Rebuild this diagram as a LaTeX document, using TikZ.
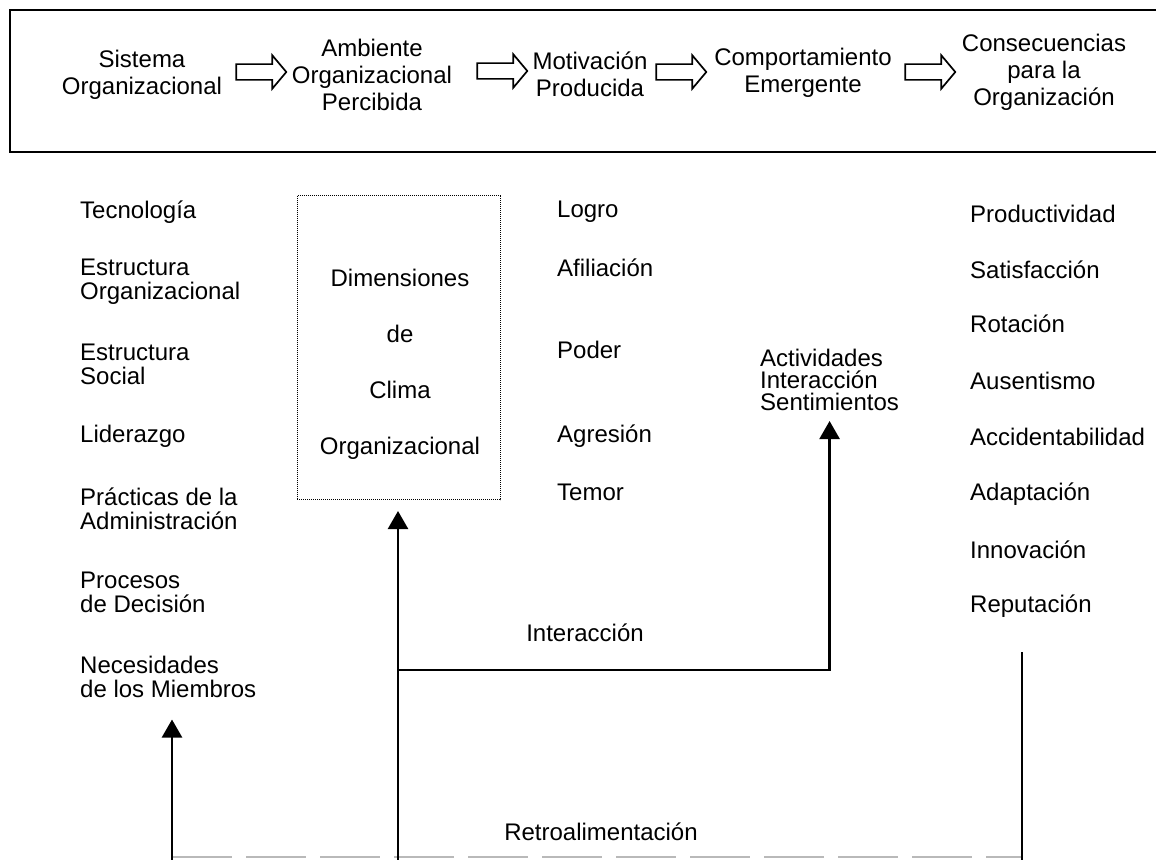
\documentclass[tikz,border=0pt]{standalone}
\usepackage{fontspec}
\setmainfont{Liberation Sans}
\usetikzlibrary{arrows.meta,shapes.arrows}

\begin{document}
\begin{tikzpicture}[x=1pt,y=-1pt,>={Triangle[length=18pt,width=20pt]},
  font=\fontsize{24}{24}\selectfont,
  txt/.style={inner sep=0pt,align=left,anchor=west},
  titulo/.style={inner sep=0pt,align=center,font=\fontsize{24}{27}\selectfont},
  flechahueca/.style={single arrow,draw,line width=1.7pt,inner sep=7pt,minimum height=50pt,
    single arrow head extend=9pt,single arrow tip angle=100},
  linea/.style={line width=2.5pt}]
\useasboundingbox (0,0) rectangle (1156,859);
\draw[line width=2pt] (10,10) rectangle (1170,152);
\node[titulo] (sis) at (142,75) {Sistema\\Organizacional};
\node[titulo] (amb) at (372,75) {Ambiente\\Organizacional\\Percibida};
\node[titulo] (mot) at (590,74) {Motivación\\Producida};
\node[titulo] (com) at (803,73) {Comportamiento\\Emergente};
\node[titulo] (con) at (1044,72) {Consecuencias\\para la\\Organización};
\node[flechahueca] (f1) at (258,72) {};
\node[flechahueca] (f2) at (499,71) {};
\node[flechahueca] (f3) at (678,72) {};
\node[flechahueca] (f4) at (927,72) {};

\node[txt] (tec) at (80,212) {Tecnología};
\node[txt] (eorg) at (80,281.5) {Estructura\\Organizacional};
\node[txt] (esoc) at (80,364) {Estructura\\Social};
\node[txt] (lid) at (80,436) {Liderazgo};
\node[txt] (prac) at (80,509) {Prácticas de la\\Administración};
\node[txt] (proc) at (80,592) {Procesos\\de Decisión};
\node[txt] (nec) at (80,676.5) {Necesidades\\de los Miembros};

\node[draw,densely dotted,line width=1pt,minimum width=203pt,minimum height=304pt] (clima) at (398.5,347.5) {};
\node[inner sep=0pt,align=center] (climatxt) at (400,364) {Dimensiones\\[32pt]de\\[32pt]Clima\\[32pt]Organizacional};

\node[txt] (logro) at (557,212) {Logro};
\node[txt] (afil) at (557,268) {Afiliación};
\node[txt] (poder) at (557,350) {Poder};
\node[txt] (agre) at (557,436) {Agresión};
\node[txt] (temor) at (557,492) {Temor};

\node[txt,font=\fontsize{24}{22}\selectfont] (acts) at (760,380) {Actividades\\Interacción\\Sentimientos};

\node[txt] (prod) at (970,214) {Productividad};
\node[txt] (sat) at (970,270) {Satisfacción};
\node[txt] (rot) at (970,324) {Rotación};
\node[txt] (aus) at (970,381) {Ausentismo};
\node[txt] (acc) at (970,437) {Accidentabilidad};
\node[txt] (adap) at (970,494) {Adaptación};
\node[txt] (inno) at (970,550) {Innovación};
\node[txt] (reput) at (970,606) {Reputación};

\node (inter) at (585,633) {Interacción};
\node (retro) at (601,832) {Retroalimentación};

\coordinate (bL) at (172,860);
\coordinate (bM) at (398,860);
\coordinate (bR) at (1022,860);
\coordinate (cruce) at (398,670);
\draw[gray!55,line width=1.6pt,dash pattern=on 60pt off 14pt] ([yshift=3pt]bL) -- ([yshift=3pt]bR);
\draw[linea,->,shorten >=22pt] (bL) -- (bL |- nec.south);
\draw[linea,->,shorten >=11pt] (bM) -- (bM |- clima.south);
\draw[linea,->,shorten >=10pt] (cruce) -| (acts.south);
\draw[linea,shorten >=34pt] (bR) -- (bR |- reput.south);
\end{tikzpicture}
\end{document}
